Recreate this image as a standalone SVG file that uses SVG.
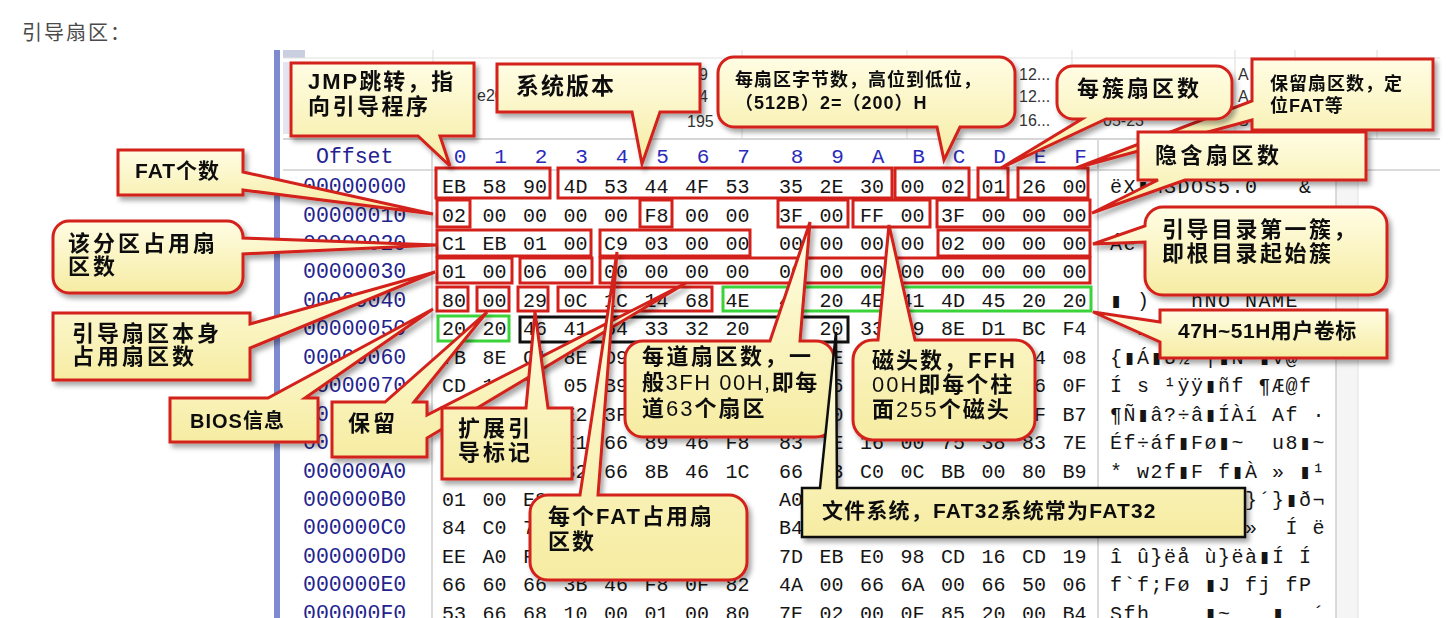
<svg xmlns="http://www.w3.org/2000/svg" width="1453" height="618" viewBox="0 0 1453 618">
<defs>
<linearGradient id="yg" x1="0" y1="0" x2="0" y2="1">
<stop offset="0" stop-color="#fffde4"/>
<stop offset="1" stop-color="#f6eca2"/>
</linearGradient>
<filter id="sh" x="-10%" y="-10%" width="125%" height="135%">
<feDropShadow dx="3" dy="4" stdDeviation="2.5" flood-color="#000" flood-opacity="0.35"/>
</filter>
<style>
.hex{font-family:"Liberation Mono","DejaVu Sans Mono",monospace;font-size:20px;fill:#151515}
.asc{font-family:"Liberation Mono","DejaVu Sans Mono",monospace;font-size:20px;fill:#151515}
.off{font-family:"Liberation Mono","DejaVu Sans Mono",monospace;font-size:21.5px;fill:#23238f}
.hdr{font-family:"Liberation Mono","DejaVu Sans Mono",monospace;font-size:21px;fill:#2b2bbb;text-anchor:middle}
.tt{font-family:"Liberation Sans",sans-serif;font-size:16px;fill:#333}
.grid{stroke:#e2e2e2;stroke-width:1.2}
.sep{stroke:#cfcfcf;stroke-width:1.5}
.co{fill:url(#yg);stroke:#d3201a;stroke-width:3;stroke-linejoin:miter}
.cb{fill:url(#yg);stroke:#111;stroke-width:2.5}
.ct{font-family:"Liberation Sans","Noto Sans CJK SC",sans-serif;font-weight:bold;fill:#111}
.nw{font-weight:normal}
.hb{fill:none;stroke:#d3201a;stroke-width:3}
.hg{fill:none;stroke:#3ad43a;stroke-width:3}
.hk{fill:none;stroke:#111;stroke-width:3}
</style>
</defs>
<rect width="1453" height="618" fill="#fff"/>
<text x="22" y="40" style="font-family:'Noto Sans CJK SC',sans-serif;font-size:20px;letter-spacing:2px" fill="#4a4a4a">引导扇区：</text>

<g id="screenshot">
<rect x="274" y="50" width="6" height="568" fill="#7f8bd0"/>
<rect x="283" y="50" width="22" height="8" fill="#c9cfe0"/>
<rect x="283" y="62" width="6" height="72" fill="#e3e6ef"/>
<line class="grid" x1="283" y1="58" x2="1440" y2="58"/>
<line class="grid" x1="433" y1="50" x2="433" y2="139"/>
<line class="grid" x1="742" y1="50" x2="742" y2="139"/>
<line class="grid" x1="907" y1="50" x2="907" y2="139"/>
<line class="grid" x1="1072" y1="50" x2="1072" y2="139"/>
<line class="grid" x1="1235" y1="50" x2="1235" y2="139"/>
<line class="grid" x1="1295" y1="50" x2="1295" y2="139"/>
<line class="grid" x1="1377" y1="50" x2="1377" y2="139"/>
<line x1="283" y1="139" x2="1440" y2="139" stroke="#c8c8c8" stroke-width="1.5"/>
<text class="tt" x="477" y="101">e20</text>
<text class="tt" x="699" y="80">9</text>
<text class="tt" x="699" y="102">4</text>
<text class="tt" x="687" y="127">195</text>
<text class="tt" x="1019" y="80">12...</text>
<text class="tt" x="1019" y="102">12...</text>
<text class="tt" x="1019" y="126">16...</text>
<text class="tt" x="1103" y="126">05-23</text>
<text class="tt" x="1238" y="80">A</text>
<text class="tt" x="1238" y="102">A</text>
<text class="tt" x="1238" y="126">S</text>
<line class="sep" x1="283" y1="170" x2="1440" y2="170"/>
<line class="sep" x1="432" y1="140" x2="432" y2="618"/>
<line class="sep" x1="1098" y1="140" x2="1098" y2="618"/>
<rect x="1336" y="140" width="22" height="478" fill="#f5f5f5"/>
<line class="sep" x1="1336" y1="140" x2="1336" y2="618"/>
<line x1="1358" y1="140" x2="1358" y2="618" stroke="#e6e6e6" stroke-width="1.2"/>

<text class="off" x="316" y="163">Offset</text>
<text class="hdr" x="460" y="163">0</text><text class="hdr" x="500.5" y="163">1</text><text class="hdr" x="541" y="163">2</text><text class="hdr" x="581.5" y="163">3</text><text class="hdr" x="622" y="163">4</text><text class="hdr" x="662.5" y="163">5</text><text class="hdr" x="703" y="163">6</text><text class="hdr" x="743.5" y="163">7</text><text class="hdr" x="797" y="163">8</text><text class="hdr" x="837.5" y="163">9</text><text class="hdr" x="878" y="163">A</text><text class="hdr" x="918.5" y="163">B</text><text class="hdr" x="959" y="163">C</text><text class="hdr" x="999.5" y="163">D</text><text class="hdr" x="1040" y="163">E</text><text class="hdr" x="1080.5" y="163">F</text>

<g class="off">
<text x="303" y="193">00000000</text>
<text x="303" y="221.5">00000010</text>
<text x="303" y="250">00000020</text>
<text x="303" y="278.4">00000030</text>
<text x="303" y="306.8">00000040</text>
<text x="303" y="335.3">00000050</text>
<text x="303" y="363.7">00000060</text>
<text x="303" y="392.2">00000070</text>
<text x="316" y="420.6">0</text>
<text x="303" y="449.1">00</text>
<text x="303" y="477.5">000000A0</text>
<text x="303" y="506">000000B0</text>
<text x="303" y="534.4">000000C0</text>
<text x="303" y="562.9">000000D0</text>
<text x="303" y="591.3">000000E0</text>
<text x="303" y="619.8">000000F0</text>
</g>

<g class="hex">
<text y="193" x="442 454 482.5 494.5 523 535 563.5 575.5 604 616 644.5 656.5 685 697 725.5 737.5 779 791 819.5 831.5 860 872 900.5 912.5 941 953 981.5 993.5 1022 1034 1062.5 1074.5">EB58904D53444F53352E300002012600</text>
<text y="221.5" x="442 454 482.5 494.5 523 535 563.5 575.5 604 616 644.5 656.5 685 697 725.5 737.5 779 791 819.5 831.5 860 872 900.5 912.5 941 953 981.5 993.5 1022 1034 1062.5 1074.5">0200000000F800003F00FF003F000000</text>
<text y="250" x="442 454 482.5 494.5 523 535 563.5 575.5 604 616 644.5 656.5 685 697 725.5 737.5 779 791 819.5 831.5 860 872 900.5 912.5 941 953 981.5 993.5 1022 1034 1062.5 1074.5">C1EB0100C90300000000000002000000</text>
<text y="278.4" x="442 454 482.5 494.5 523 535 563.5 575.5 604 616 644.5 656.5 685 697 725.5 737.5 779 791 819.5 831.5 860 872 900.5 912.5 941 953 981.5 993.5 1022 1034 1062.5 1074.5">01000600000000000000000000000000</text>
<text y="306.8" x="442 454 482.5 494.5 523 535 563.5 575.5 604 616 644.5 656.5 685 697 725.5 737.5 779 791 819.5 831.5 860 872 900.5 912.5 941 953 981.5 993.5 1022 1034 1062.5 1074.5">8000290C1C14684E4F204E414D452020</text>
<text y="335.3" x="442 454 482.5 494.5 523 535 563.5 575.5 604 616 644.5 656.5 685 697 725.5 737.5 779 791 819.5 831.5 860 872 900.5 912.5 941 953 981.5 993.5 1022 1034 1062.5 1074.5">2020464154333220202033C98ED1BCF4</text>
<text y="363.7" x="442 454 482.5 494.5 523 535 563.5 575.5 604 616">7B8EC18ED9</text>
<text y="363.7" x="819.5 831.5">4E</text>
<text y="363.7" x="1022 1034 1062.5 1074.5">B408</text>
<text y="392.2" x="442 454 482.5 494.5 523 535 563.5 575.5 604 616">CD137305B9</text>
<text y="392.2" x="819.5 831.5">66</text>
<text y="392.2" x="1022 1034 1062.5 1074.5">660F</text>
<text y="420.6" x="563.5 575.5 604 616">E23F</text>
<text y="420.6" x="819.5 831.5">C0</text>
<text y="420.6" x="1022 1034 1062.5 1074.5">0FB7</text>
<text y="449.1" x="563.5 575.5 604 616 644.5 656.5 685 697 725.5 737.5 779 791 819.5 831.5 860 872 900.5 912.5 941 953 981.5 993.5 1022 1034 1062.5 1074.5">E1668946F8837E16007538837E</text>
<text y="477.5" x="563.5 575.5 604 616 644.5 656.5 685 697 725.5 737.5 779 791 819.5 831.5 860 872 900.5 912.5 941 953 981.5 993.5 1022 1034 1062.5 1074.5">32668B461C6683C00CBB0080B9</text>
<text y="506" x="442 454 482.5 494.5 523 535">0100E8</text>
<text y="506" x="779 791">A0</text>
<text y="534.4" x="442 454 482.5 494.5 523 535">84C074</text>
<text y="534.4" x="779 791">B4</text>
<text y="562.9" x="442 454 482.5 494.5 523 535">EEA0FB</text>
<text y="562.9" x="779 791 819.5 831.5 860 872 900.5 912.5 941 953 981.5 993.5 1022 1034 1062.5 1074.5">7DEBE098CD16CD19</text>
<text y="591.3" x="442 454 482.5 494.5 523 535 563.5 575.5 604 616 644.5 656.5 685 697 725.5 737.5 779 791 819.5 831.5 860 872 900.5 912.5 941 953 981.5 993.5 1022 1034 1062.5 1074.5">6660663B46F80F824A00666A00665006</text>
<text y="619.8" x="442 454 482.5 494.5 523 535 563.5 575.5 604 616 644.5 656.5 685 697 725.5 737.5 779 791 819.5 831.5 860 872 900.5 912.5 941 953 981.5 993.5 1022 1034 1062.5 1074.5">53666810000100807E02000F852000B4</text>
</g>

<g class="asc">
<text y="193" x="1110 1123.5 1137 1150.5 1164 1177.5 1191 1204.5 1218 1231.5 1245 1258.5 1272 1285.5 1299 1312.5">ëX▮MSDOS5.0&#160;&#160;&#160;&amp;</text>
<text y="250" x="1110 1123.5">Áë</text>
<text y="306.8" x="1110 1123.5 1137 1150.5 1164 1177.5 1191 1204.5 1218 1231.5 1245 1258.5 1272 1285.5 1299 1312.5">▮&#160;)&#160;&#160;&#160;hNO&#160;NAME</text>
<text y="335.3" x="1137 1150.5">FA</text>
<text y="363.7" x="1110 1123.5 1137 1150.5 1164 1177.5 1191 1204.5 1218 1231.5 1245 1258.5 1272 1285.5 1299 1312.5">{▮Á▮Ù½&#160;|▮N&#160;▮V@´</text>
<text y="392.2" x="1110 1123.5 1137 1150.5 1164 1177.5 1191 1204.5 1218 1231.5 1245 1258.5 1272 1285.5 1299 1312.5">Í&#160;s&#160;¹ÿÿ▮ñf&#160;¶Æ@f</text>
<text y="420.6" x="1110 1123.5 1137 1150.5 1164 1177.5 1191 1204.5 1218 1231.5 1245 1258.5 1272 1285.5 1299 1312.5">¶Ñ▮â?÷â▮ÍÀí&#160;Af&#160;·</text>
<text y="449.1" x="1110 1123.5 1137 1150.5 1164 1177.5 1191 1204.5 1218 1231.5 1245 1258.5 1272 1285.5 1299 1312.5">Éf÷áf▮Fø▮~&#160;&#160;u8▮~</text>
<text y="477.5" x="1110 1123.5 1137 1150.5 1164 1177.5 1191 1204.5 1218 1231.5 1245 1258.5 1272 1285.5 1299 1312.5">*&#160;w2f▮F&#160;f▮À&#160;»&#160;▮¹</text>
<text y="506" x="1245 1258.5 1272 1285.5 1299 1312.5">}´}▮ð¬</text>
<text y="534.4" x="1245 1258.5 1272 1285.5 1299 1312.5">»&#160;&#160;Í&#160;ë</text>
<text y="562.9" x="1110 1123.5 1137 1150.5 1164 1177.5 1191 1204.5 1218 1231.5 1245 1258.5 1272 1285.5 1299 1312.5">î&#160;û}ëå&#160;ù}ëà▮Í&#160;Í</text>
<text y="591.3" x="1110 1123.5 1137 1150.5 1164 1177.5 1191 1204.5 1218 1231.5 1245 1258.5 1272 1285.5 1299 1312.5">f`f;Fø&#160;▮J&#160;fj&#160;fP</text>
<text y="619.8" x="1110 1123.5 1137 1150.5 1164 1177.5 1191 1204.5 1218 1231.5 1245 1258.5 1272 1285.5 1299 1312.5">Sfh&#160;&#160;&#160;&#160;▮~&#160;&#160;&#160;▮&#160;&#160;´</text>
</g>
</g>

<g id="highlights">
<rect class="hb" x="436" y="168" width="114" height="30"/>
<rect class="hb" x="558" y="168" width="334" height="30"/>
<rect class="hb" x="895" y="168" width="74" height="30"/>
<rect class="hb" x="978" y="168" width="30" height="30"/>
<rect class="hb" x="1018" y="168" width="70" height="30"/>
<rect class="hb" x="437" y="200" width="33" height="27"/>
<rect class="hb" x="640" y="200" width="32" height="27"/>
<rect class="hb" x="778" y="200" width="70" height="27"/>
<rect class="hb" x="853" y="200" width="77" height="27"/>
<rect class="hb" x="937" y="200" width="153" height="27"/>
<rect class="hb" x="437" y="230" width="154" height="26"/>
<rect class="hb" x="600" y="230" width="150" height="26"/>
<rect class="hb" x="938" y="230" width="152" height="26"/>
<rect class="hb" x="437" y="258" width="75" height="25"/>
<rect class="hb" x="520" y="258" width="72" height="25"/>
<rect class="hb" x="600" y="258" width="490" height="25"/>
<rect class="hb" x="437" y="287" width="31" height="24"/>
<rect class="hb" x="477" y="287" width="32" height="24"/>
<rect class="hb" x="518" y="287" width="30" height="24"/>
<rect class="hb" x="558" y="287" width="154" height="24"/>
<rect class="hg" x="723" y="287" width="368" height="24"/>
<rect class="hg" x="438" y="316" width="71" height="25"/>
<rect class="hk" x="520" y="317" width="328" height="25"/>
</g>

<g id="connectors"></g>

<g id="c-reserved" filter="url(#sh)">
<path class="co" d="M1252,59 H1433 V130 H1252 V120 L1076,168 L1252,101 Z"/>
<text class="ct" x="1270" y="90" style="font-size:18px;letter-spacing:1px">保留扇区数，定</text>
<text class="ct" x="1270" y="112" style="font-size:18px;letter-spacing:1px">位FAT等</text>
</g>
<g id="c-cluster" filter="url(#sh)">
<path class="co" d="M1073,66 H1216 A16,16 0 0 1 1232,82 V103 A16,16 0 0 1 1216,119 H1106 L1001,168 L1082,119 H1073 A16,16 0 0 1 1057,103 V82 A16,16 0 0 1 1073,66 Z"/>
<text class="ct" x="1077" y="96" style="font-size:22px;letter-spacing:3px">每簇扇区数</text>
</g>
<g id="c-bytes" filter="url(#sh)">
<path class="co" d="M734,57 H999 A16,16 0 0 1 1015,73 V111 A16,16 0 0 1 999,127 H960 L944,160 L937,127 H734 A16,16 0 0 1 718,111 V73 A16,16 0 0 1 734,57 Z"/>
<text class="ct" x="735" y="86" style="font-size:18px;letter-spacing:1px">每扇区字节数，高位到低位，</text>
<text class="ct" x="735" y="109" style="font-size:18px;letter-spacing:1px">（512B）2=（200）H</text>
</g>
<g id="c-version" filter="url(#sh)">
<path class="co" d="M497,64 H700 V112 H660 L642,164 L632,112 H497 Z"/>
<text class="ct" x="516" y="94" style="font-size:23px;letter-spacing:2px">系统版本</text>
</g>
<g id="c-jmp" filter="url(#sh)">
<path class="co" d="M291,63 H474 V136 H440 L450,166 L418,136 H291 Z"/>
<text class="ct" x="308" y="89" style="font-size:22px;letter-spacing:2px">JMP跳转，指</text>
<text class="ct" x="308" y="114" style="font-size:22px;letter-spacing:2.5px">向引导程序</text>
</g>
<g id="c-hidden" filter="url(#sh)">
<path class="co" d="M1138,132 H1366 V180 H1185 L1092,213 L1158,180 H1138 Z"/>
<text class="ct" x="1155" y="163" style="font-size:22px;letter-spacing:3.5px">隐含扇区数</text>
</g>
<g id="c-rootdir" filter="url(#sh)">
<path class="co" d="M1163,207 H1369 A18,18 0 0 1 1387,225 V277 A18,18 0 0 1 1369,295 H1163 A18,18 0 0 1 1145,277 V242 L1093,244 L1145,226 V225 A18,18 0 0 1 1163,207 Z"/>
<text class="ct" x="1162" y="237" style="font-size:22px;letter-spacing:2.5px">引导目录第一簇，</text>
<text class="ct" x="1162" y="261" style="font-size:22px;letter-spacing:2.5px">即根目录起始簇</text>
</g>
<g id="c-label" filter="url(#sh)">
<path class="co" d="M1160,310 H1387 V358 H1160 V342 L1093,312 L1160,322 Z"/>
<text class="ct" x="1178" y="338" style="font-size:21px;letter-spacing:0.5px">47H~51H用户卷标</text>
</g>
<g id="c-fatcount" filter="url(#sh)">
<path class="co" d="M118,150 H243 V172 L433,214 L243,190 V195 H118 Z"/>
<text class="ct" x="135" y="178" style="font-size:21px;letter-spacing:1px">FAT个数</text>
</g>
<g id="c-partsize" filter="url(#sh)">
<path class="co" d="M69,221 H227 A16,16 0 0 1 243,237 V238 L437,245 L243,254 V277 A16,16 0 0 1 227,293 H69 A16,16 0 0 1 53,277 V237 A16,16 0 0 1 69,221 Z"/>
<text class="ct" x="68" y="251" style="font-size:22px;letter-spacing:3px">该分区占用扇</text>
<text class="ct" x="68" y="274" style="font-size:22px;letter-spacing:3px">区数</text>
</g>
<g id="c-bootsize" filter="url(#sh)">
<path class="co" d="M53,313 H250 V324 L435,272 L250,348 V380 H53 Z"/>
<text class="ct" x="72" y="341" style="font-size:22px;letter-spacing:3px">引导扇区本身</text>
<text class="ct" x="72" y="364" style="font-size:22px;letter-spacing:3px">占用扇区数</text>
</g>
<g id="c-bios" filter="url(#sh)">
<path class="co" d="M170,398 H268 L433,309 L305,398 H318 V442 H170 Z"/>
<text class="ct" x="190" y="428" style="font-size:20px;letter-spacing:1px">BIOS信息</text>
</g>
<g id="c-keep" filter="url(#sh)">
<path class="co" d="M332,402 H385 L487,312 L414,402 H427 V415 L686,283 L427,438 V457 H332 Z"/>
<text class="ct" x="348" y="431" style="font-size:22px;letter-spacing:3px">保留</text>
</g>
<g id="c-extsig" filter="url(#sh)">
<path class="co" d="M442,408 H526 L535,312 L548,408 H572 V479 H442 Z"/>
<text class="ct" x="458" y="436" style="font-size:22px;letter-spacing:3px">扩展引</text>
<text class="ct" x="458" y="460" style="font-size:22px;letter-spacing:3px">导标记</text>
</g>
<g id="c-track" filter="url(#sh)">
<path class="co" d="M643,341 H770 L810,222 L800,341 H816 A18,18 0 0 1 834,359 V419 A18,18 0 0 1 816,437 H643 A18,18 0 0 1 625,419 V359 A18,18 0 0 1 643,341 Z"/>
<text class="ct" x="642" y="364" style="font-size:22px;letter-spacing:2.5px">每道扇区数，一</text>
<text class="ct" x="642" y="390" style="font-size:22px;letter-spacing:1.5px">般<tspan class="nw">3FH 00H,</tspan>即每</text>
<text class="ct" x="642" y="416" style="font-size:22px;letter-spacing:2px">道<tspan class="nw">63</tspan>个扇区</text>
</g>
<g id="c-heads" filter="url(#sh)">
<path class="co" d="M873,340 H878 L889,225 L915,340 H1015 A20,20 0 0 1 1035,360 V420 A20,20 0 0 1 1015,440 H873 A20,20 0 0 1 853,420 V360 A20,20 0 0 1 873,340 Z"/>
<text class="ct" x="872" y="368" style="font-size:22px;letter-spacing:2px">磁头数，FFH</text>
<text class="ct" x="872" y="392" style="font-size:22px;letter-spacing:2px"><tspan class="nw">00H</tspan>即每个柱</text>
<text class="ct" x="872" y="417" style="font-size:22px;letter-spacing:2px">面<tspan class="nw">255</tspan>个磁头</text>
</g>
<g id="c-fatsize" filter="url(#sh)">
<path class="co" d="M548,495 H580 L617,252 L598,495 H729 A18,18 0 0 1 747,513 V562 A18,18 0 0 1 729,580 H548 A18,18 0 0 1 530,562 V513 A18,18 0 0 1 548,495 Z"/>
<text class="ct" x="548" y="524" style="font-size:22px;letter-spacing:2px">每个FAT占用扇</text>
<text class="ct" x="548" y="549" style="font-size:22px;letter-spacing:2px">区数</text>
</g>
<g id="c-fstype" filter="url(#sh)">
<path class="cb" d="M802,488 H820 L836,332 L837,488 H1245 V537 H802 Z"/>
<text class="ct" x="822" y="518" style="font-size:21px;letter-spacing:1.2px">文件系统，FAT32系统常为FAT32</text>
</g>
</svg>
